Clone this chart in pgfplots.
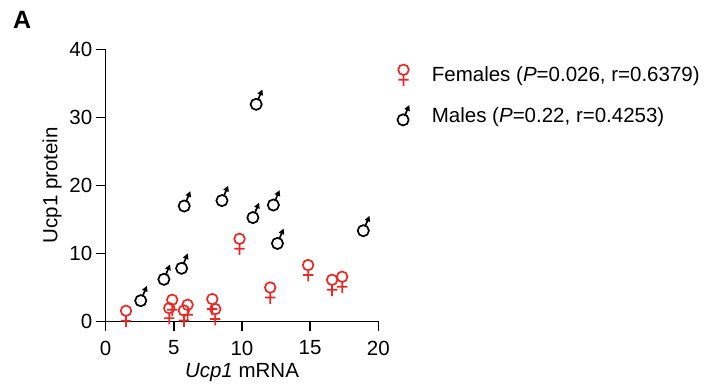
\documentclass[border=0pt]{standalone}
\usepackage{fontspec}
\setmainfont{Liberation Sans}
\usepackage{pgfplots}
\pgfplotsset{compat=1.18}
\definecolor{fem}{RGB}{235,40,35}
\pgfdeclareplotmark{female}{%
  \pgfpathcircle{\pgfpoint{0bp}{5.5bp}}{5.3bp}%
  \pgfpathmoveto{\pgfpoint{0bp}{0.2bp}}%
  \pgfpathlineto{\pgfpoint{0bp}{-10.8bp}}%
  \pgfpathmoveto{\pgfpoint{-5.2bp}{-4.5bp}}%
  \pgfpathlineto{\pgfpoint{5.2bp}{-4.5bp}}%
  \pgfusepathqstroke
}
\pgfdeclareplotmark{male}{%
  \pgfpathcircle{\pgfpoint{-0.4bp}{-4.4bp}}{5.6bp}%
  \pgfpathmoveto{\pgfpoint{1.74bp}{0.77bp}}%
  \pgfpathlineto{\pgfpoint{3.8bp}{5.7bp}}%
  \pgfusepathqstroke
  \pgfpathmoveto{\pgfpoint{5.73bp}{10.38bp}}%
  \pgfpathlineto{\pgfpoint{0.86bp}{6.45bp}}%
  \pgfpathlineto{\pgfpoint{6.4bp}{4.15bp}}%
  \pgfpathclose
  \pgfusepathqfill
}
\begin{document}
\begin{tikzpicture}
\path[use as bounding box] (-105.7bp,-70.7bp) rectangle (599.3bp,321.3bp);
\begin{axis}[
  at={(0,0)}, anchor=south west,
  scale only axis, width=272.6bp, height=272bp,
  xmin=0, xmax=20, ymin=0, ymax=40,
  xtick={0,5,10,15,20}, ytick={0,10,20,30,40},
  axis x line*=bottom, axis y line*=left,
  axis line style={line width=1.5bp, -},
  tick style={line width=1.5bp, black},
  major tick length=10bp, tick align=outside,
  /pgf/number format/assume math mode=true,
  tick label style={font=\fontsize{20.5bp}{24bp}\selectfont},
  xticklabel style={yshift=-6bp},
  label style={font=\fontsize{20.5bp}{24bp}\selectfont},
  xlabel={\textit{Ucp1} mRNA},
  ylabel={Ucp1 protein},
  xlabel style={at={(axis description cs:0.5,-0.205)}, anchor=base},
  ylabel style={at={(axis description cs:-0.197,0.5)}, anchor=center},
  legend cell align=left,
  legend style={draw=none, fill=none, at={(axis description cs:1,1)}, anchor=north west,
    xshift=16bp, yshift=-13bp, font=\fontsize{20.5bp}{24bp}\selectfont, row sep=19bp, column sep=20bp},
]
\addplot[only marks, mark=female, mark options={draw=fem, fill=fem, line width=1.7bp}] coordinates {
(1.49,0.74) (4.88,2.35) (4.66,1.13) (6.01,1.62) (5.74,0.78) (7.82,2.46)
(8.04,0.99) (9.82,11.32) (12.07,4.16) (14.85,7.46) (16.61,5.29) (17.35,5.74)
};
\addlegendentry{Females (\textit{P}=0.026, r=0.6379)}
\addplot[only marks, mark=male, mark options={draw=black, fill=black, line width=1.7bp}] coordinates {
(2.60,3.68) (4.30,6.82) (5.60,8.44) (5.79,17.6) (8.56,18.4) (10.83,15.9)
(12.33,17.75) (12.63,12.1) (11.07,32.56) (18.93,13.97)
};
\addlegendentry{Males (\textit{P}=0.22, r=0.4253)}
\end{axis}
\node[anchor=base west, inner sep=0pt, font=\fontsize{25bp}{28bp}\selectfont\bfseries] at (-92.7bp,292.3bp) {A};
\end{tikzpicture}
\end{document}
